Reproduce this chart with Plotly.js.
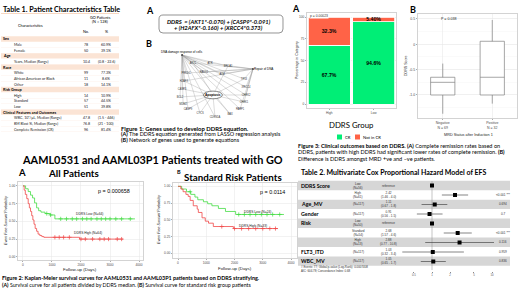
<!DOCTYPE html>
<html><head><meta charset="utf-8">
<script src="https://cdn.plot.ly/plotly-3.0.1.min.js"></script>
<style>html,body{margin:0;padding:0;background:#fff}#chart{width:520px;height:292px}</style>
</head><body><div id="chart"></div>
<script>
// ================= DATA =================
// Table 1
const t1Labels = ["Sex","Male","Female","Age","Years, Median (Range)","Race","White","African American or Black","Other","Risk Group","High","Standard","Low","Clinical Features and Outcomes","WBC, 10\u00b3/\u00b5L, Median (Range)","BM Blast %, Median (Range)","Complete Remission (CR)"];
const t1No  = ["","78","50","","10.4","","99","11","18","","14","57","51","","47.8","76.8","96"];
const t1Pct = ["","60.9%","39.1%","","(0.8 - 22.6)","","77.3%","8.6%","14.1%","","10.9%","44.5%","39.8%","","(1.5 - 446)","(21 - 100)","81.4%"];

// Figure 1
const eqLine1 = "DDRS  = (AKT1*-0.070) + (CASP9*-0.091)";
const eqLine2 = "+ (H2AFX*-0.160) + (XRCC4*0.373)";
const hubNames = ["DNA damage response of cells","Repair of DNA","Apoptosis"];
const hubX = [29.0, 77.9, 50.3];
const hubY = [87.0, 68.8, 35.1];
const geneNames = ["AKT1","ATR","BRCA1","PRKDC","RAD51","ATM","H2AFX","TP53","CASP3","XRCC4","BCL2","CHEK2","MDM2","CHEK1","CASP9","PARP1","CYCS","CDKN1A","BAX"];
const geneX = [36.6,48.3,60.7,31.7,44.1,56.6,30.3,71.7,29.0,73.1,27.6,73.1,29.7,71.7,33.1,69.0,41.4,51.7,62.1];
const geneY = [76.6,76.6,72.7,63.6,64.9,62.3,53.2,55.8,42.9,45.5,32.5,35.1,23.4,26.0,16.9,16.9,11.7,6.5,10.4];
const dnaTargets = [0,1,2,3,4,5,6,7,8,9,10,11,12,13,14,15,16,17,18];
const repairTargets = [0,1,2,3,4,5,6,7,9,11,13,15];
const apoptosisTargets = [0,2,6,7,8,10,11,12,13,14,16,17,18];

// Figure 3A
const crGroups = ["High","Low"];
const crPct = [67.7, 94.6];
const notCrPct = [32.3, 5.4];
const crText = ["67.7%","94.6%"];
const notCrText = ["32.3%","5.40%"];
const crP = "p = 0.00023";

// Figure 3B
const mrdGroups = ["Negative","Positive"];
const mrdN = [69, 32];
const mrdLower = [-1.37, -1.17];
const mrdQ1 = [-1.0, -1.0];
const mrdMed = [-0.75, -0.65];
const mrdQ3 = [-0.65, 0.06];
const mrdUpper = [-0.38, 0.48];
const mrdP = "P = 0.038";

// Figure 2A (all patients)
const kmA_low_t = [0,90,180,260,330,400,470,540,620,760,930,1100,3860];
const kmA_low_s = [1,0.96,0.92,0.87,0.83,0.76,0.69,0.65,0.63,0.61,0.59,0.535,0.535];
const kmA_low_c = [820,950,1300,1500,1700,1850,2050,2200,2350,2550,2700,2850,3000,3200,3400,3700];
const kmA_high_t = [0,40,80,130,180,220,260,300,340,380,420,470,520,580,650,720,1950,3450];
const kmA_high_s = [1,0.94,0.88,0.82,0.75,0.69,0.64,0.58,0.52,0.46,0.40,0.36,0.32,0.30,0.285,0.275,0.25,0.25];
const kmA_high_c = [1100,1250,1400,1600,2000,2150,2400,2650,2800,2950,3250,3400];
const kmA_p = "p = 0.000658";
const kmA_lowLab = "DDRS Low (N=64)", kmA_highLab = "DDRS High (N=64)";

// Figure 2B (standard risk)
const kmB_low_t = [0,130,300,450,600,700,900,1050,1200,1430,1680,2040,3750];
const kmB_low_s = [1,0.96,0.92,0.88,0.84,0.80,0.77,0.74,0.71,0.67,0.625,0.58,0.58];
const kmB_low_c = [430,2150,2350,2550,2750,2950,3150,3350,3600];
const kmB_high_t = [0,100,180,280,360,430,540,680,720,850,965,1080,1250,1960,3540];
const kmB_high_s = [1,0.96,0.92,0.88,0.85,0.79,0.71,0.66,0.61,0.53,0.48,0.45,0.40,0.37,0.37];
const kmB_high_c = [1550,2000,2250,2500,2750,3000,3250,3450];
const kmB_p = "p = 0.0114";
const kmB_lowLab = "DDRS Low (N=24)", kmB_highLab = "DDRS High (N=33)";

// Table 2 (Cox model)
const coxVar = ["DDRS Score","","Age_MV","Gender","Risk","","","FLT3_ITD","WBC_MV"];
const coxSub = ["Low<br>(N=56)","High<br>(N=61)","(N=117)","(N=117)","Low<br>(N=50)","Standard<br>(N=54)","High<br>(N=13)","(N=117)","(N=117)"];
const coxHR = [1, 2.42, 1.11, 0.91, 1, 2.68, 2.88, 1.03, 1.05];
const coxLo = [null, 1.46, 0.67, 0.56, null, 1.57, 0.77, 0.32, 0.65];
const coxHi = [null, "4.0", "1.8", "1.5", null, "4.6", "10.8", "3.4", "1.7"];
const coxP = ["", "&lt;0.001 ***", "0.694", "0.7", "", "&lt;0.001 ***", "0.116", "0.959", "0.836"];
const coxTicks = [0.5, 1, 2, 5, 10];
const coxFoot1 = "# Events: 77; Global p-value (Log-Rank): 0.0007408";
const coxFoot2 = "AIC: 604.78; Concordance Index: 0.68";

// ================= BUILD =================
const W = 520, H = 292;
const FONT = 'Lato, "Noto Sans", sans-serif';
const PF = '"Liberation Sans", Arial, sans-serif';
const GREEN = "#00EE76", TOMATO = "#FF6347";
const KMG = "#44DD44", KMR = "#F04848";

const ann = [];
const shapes = [];
function A(x, y, text, size, o) {
  o = o || {};
  ann.push({xref:'paper', yref:'paper', x:x/W, y:1-y/H, text:text, showarrow:false,
    xanchor:o.xa||'left', yanchor:o.ya||'middle', align:o.align||'left', textangle:o.angle||0,
    borderpad:0, bgcolor:o.bg||'rgba(0,0,0,0)',
    font:{family:o.family||FONT, size:size, color:o.color||'#000'}});
}
function R(x0, y0, x1, y1, fill, line, lw) {
  shapes.push({type:'rect', xref:'paper', yref:'paper', x0:x0/W, x1:x1/W, y0:1-y1/H, y1:1-y0/H,
    fillcolor:fill||'rgba(0,0,0,0)', line:{color:line||'rgba(0,0,0,0)', width:lw||0}, layer:'below'});
}
function dx(a,b){return [a/W, b/W];}
function dy(top,bot){return [1-bot/H, 1-top/H];}

// ---- Table 1 ----
A(2, 9, "<b>Table 1. Patient Characteristics Table</b>", 7.2);
R(1, 13, 119, 13.6, '#f4b183');
A(30, 25, "Characteristics", 3.8, {xa:'center'});
A(100, 17, "GO Patients", 3.8, {xa:'center'});
A(100, 21.5, "(N = 128)", 3.8, {xa:'center'});
A(86, 31.5, "No.", 3.8, {xa:'center'});
A(106, 31.5, "%", 3.8, {xa:'center'});
t1Labels.forEach((lab, i) => {
  const y = 39 + i * 5.625;
  const cat = t1No[i] === "";
  if (cat) {
    R(1, y - 2.7, 119, y + 2.7, '#fbe4d5');
    A(2, y, "<b>" + lab + "</b>", 3.8);
  } else {
    A(13, y, lab, 3.6, {color:'#222'});
    A(86, y, t1No[i], 3.6, {xa:'center', color:'#222'});
    A(106, y, t1Pct[i], 3.6, {xa:'center', color:'#222'});
    R(1, y + 2.7, 119, y + 2.9, '#fbe4d5');
  }
});

// ---- Figure 1 ----
A(145, 10, "<b>A</b>", 9);
A(145, 43, "<b>B</b>", 9);
(function(){
  const x0=159,x1=283,y0=15,y1=33,r=4;
  const X=v=>(v/W).toFixed(5), Y=v=>(1-v/H).toFixed(5);
  const p = `M${X(x0+r)},${Y(y0)} L${X(x1-r)},${Y(y0)} Q${X(x1)},${Y(y0)} ${X(x1)},${Y(y0+r)} L${X(x1)},${Y(y1-r)} Q${X(x1)},${Y(y1)} ${X(x1-r)},${Y(y1)} L${X(x0+r)},${Y(y1)} Q${X(x0)},${Y(y1)} ${X(x0)},${Y(y1-r)} L${X(x0)},${Y(y0+r)} Q${X(x0)},${Y(y0)} ${X(x0+r)},${Y(y0)} Z`;
  shapes.push({type:'path', xref:'paper', yref:'paper', path:p, line:{color:'#666', width:0.7}, fillcolor:'rgba(0,0,0,0)'});
})();
A(166, 21.5, "<b><i>" + eqLine1 + "</i></b>", 5.8);
A(172.5, 28, "<b><i>" + eqLine2 + "</i></b>", 5.8);
A(120, 128, "<b>Figure 1: Genes used to develop DDRS equation.</b>", 5.9);
A(120, 134, "<b>(A)</b> The DDRS equation generated from LASSO regression analysis", 5.5);
A(120, 140, "<b>(B)</b> Network of genes used to generate equations", 5.5);

// network edges
const ex = [], ey = [];
[[0,dnaTargets],[1,repairTargets],[2,apoptosisTargets]].forEach(([h, tg]) => {
  tg.forEach(g => { ex.push(hubX[h], geneX[g], null); ey.push(hubY[h], geneY[g], null); });
});
const traces = [];
traces.push({type:'scatter', mode:'lines', x:ex, y:ey, xaxis:'x6', yaxis:'y6',
  line:{color:'#9a9a9a', width:0.35}, hoverinfo:'skip', showlegend:false});
traces.push({type:'scatter', mode:'text', x:geneX, y:geneY, text:geneNames, xaxis:'x6', yaxis:'y6',
  textfont:{family:PF, size:2.6, color:'#333'}, showlegend:false, cliponaxis:false});
traces.push({type:'scatter', mode:'markers', x:hubX, y:hubY, xaxis:'x6', yaxis:'y6',
  marker:{size:2, color:'#444'}, showlegend:false, cliponaxis:false});
shapes.push({type:'circle', xref:'x6', yref:'y6', x0:hubX[2]-6.5, x1:hubX[2]+6.5, y0:hubY[2]-5, y1:hubY[2]+5,
  line:{color:'#333', width:0.6}, fillcolor:'rgba(255,255,255,0.9)'});
ann.push({xref:'x6', yref:'y6', x:hubX[2], y:hubY[2], text:"<b>"+hubNames[2]+"</b>", showarrow:false,
  font:{family:PF, size:3.2, color:'#000'}, xanchor:'center', yanchor:'middle'});
ann.push({xref:'x6', yref:'y6', x:hubX[0], y:hubY[0], text:hubNames[0], showarrow:false,
  font:{family:PF, size:3, color:'#000'}, xanchor:'center', yanchor:'bottom', borderpad:0});
ann.push({xref:'x6', yref:'y6', x:hubX[1], y:hubY[1], text:hubNames[1], showarrow:false,
  font:{family:PF, size:3, color:'#000'}, xanchor:'left', yanchor:'middle', borderpad:0});

// ---- Figure 3A bars ----
A(291, 8, "<b>A</b>", 9);
traces.push({type:'bar', x:crGroups, y:crPct, name:'CR', xaxis:'x', yaxis:'y',
  marker:{color:GREEN, line:{color:'#fff', width:0.8}}, text:crText, texttemplate:'<b>%{text}</b>',
  textposition:'inside', insidetextanchor:'middle', constraintext:'none',
  textfont:{family:PF, size:5.2, color:'#000'}, showlegend:false});
traces.push({type:'bar', x:crGroups, y:notCrPct, name:'Not in CR', xaxis:'x', yaxis:'y',
  marker:{color:TOMATO, line:{color:'#fff', width:0.8}}, text:notCrText, texttemplate:'<b>%{text}</b>',
  textposition:'inside', insidetextanchor:'middle', constraintext:'none',
  textfont:{family:PF, size:5.2, color:'#000'}, showlegend:false, cliponaxis:false});
A(309, 15.5, crP, 3.4, {family:PF, bg:'#fff', color:'#333'});
A(297, 60, "Percentage in Category", 3.6, {xa:'center', angle:-90, family:PF, color:'#222'});
A(351, 125, "DDRS Group", 7.8, {xa:'center'});
R(337, 134.5, 342, 139.5, GREEN);
A(344, 137, "CR", 4.2);
R(355, 134.5, 360, 139.5, TOMATO);
A(362, 137, "Not in CR", 4.2);
A(297, 145.5, "<b>Figure 3: Clinical outcomes based on DDRS. (A)</b> Complete remission rates based on", 5.55);
A(297, 152, "DDRS, patients with high DDRS had significant lower rates of complete remission. <b>(B)</b>", 5.55);
A(297, 158.5, "Difference is DDRS amongst MRD +ve and \u2013ve patients.", 5.55);

// ---- Figure 3B box ----
A(409, 9, "<b>B</b>", 9);
traces.push({type:'box', x:mrdGroups, q1:mrdQ1, median:mrdMed, q3:mrdQ3, lowerfence:mrdLower, upperfence:mrdUpper,
  xaxis:'x2', yaxis:'y2', fillcolor:'#fff', line:{color:'#7f7f7f', width:0.7}, whiskerwidth:0,
  boxpoints:false, showlegend:false});
A(440, 19, mrdP, 3.6, {family:PF, color:'#222'});
A(406, 66, "DDRS Score", 3.6, {xa:'center', angle:-90, family:PF, color:'#222'});
A(468, 135, "MRD Status after Induction 1", 3.8, {xa:'center', family:PF, color:'#222'});

// ---- Figure 2 ----
A(152, 159.5, "<b>AAML0531 and AAML03P1 Patients treated with GO</b>", 10.9, {xa:'center'});
A(22, 172.5, "<b>A</b>", 9.5, {xa:'center'});
A(73, 172.5, "<b>All Patients</b>", 9.8, {xa:'center'});
A(179, 171.5, "<b>B</b>", 5.5, {xa:'center'});
A(233, 177, "<b>Standard Risk Patients</b>", 9.8, {xa:'center'});

function stepAt(t, ts, ss){ let v = ss[0]; for (let i=0;i<ts.length;i++) if (ts[i] <= t) v = ss[i]; return v; }
function km(ts, ss, cs, color, xa, ya){
  traces.push({type:'scatter', mode:'lines', x:ts, y:ss, line:{shape:'hv', color:color, width:0.8},
    xaxis:xa, yaxis:ya, showlegend:false});
  traces.push({type:'scatter', mode:'markers', x:cs, y:cs.map(t=>stepAt(t, ts, ss)),
    marker:{symbol:'cross-thin', size:3, line:{color:color, width:0.7}, color:color},
    xaxis:xa, yaxis:ya, showlegend:false});
}
km(kmA_low_t, kmA_low_s, kmA_low_c, KMG, 'x3', 'y3');
km(kmA_high_t, kmA_high_s, kmA_high_c, KMR, 'x3', 'y3');
km(kmB_low_t, kmB_low_s, kmB_low_c, KMG, 'x4', 'y4');
km(kmB_high_t, kmB_high_s, kmB_high_c, KMR, 'x4', 'y4');
A(114, 191, kmA_p, 5.4, {xa:'center', family:PF});
A(89, 213.5, kmA_lowLab, 3.3, {xa:'center', family:PF, color:'#222'});
A(88, 232.5, kmA_highLab, 3.3, {xa:'center', family:PF, color:'#222'});
A(272, 192, kmB_p, 5.4, {xa:'center', family:PF});
A(257, 212, kmB_lowLab, 3.3, {xa:'center', family:PF, color:'#222'});
A(253, 226, kmB_highLab, 3.3, {xa:'center', family:PF, color:'#222'});
A(6, 221, "<i>Event Free Survival Probability</i>", 3.6, {xa:'center', angle:-90, family:PF, color:'#222'});
A(159, 220, "<i>Event Free Survival Probability</i>", 3.6, {xa:'center', angle:-90, family:PF, color:'#222'});
A(80, 269, "Follow-up (Days)", 4.4, {xa:'center', family:PF, color:'#222'});
A(235, 268.5, "Follow-up (Days)", 4.4, {xa:'center', family:PF, color:'#222'});
A(1, 277.5, "<b>Figure 2: Kaplan-Meier survival curves for AAML0531 and AAML03P1 patients based on DDRS stratifying.</b>", 5.45);
A(1, 284.5, "<b>(A)</b> Survival curve for all patients divided by DDRS median. <b>(B)</b> Survival curve for standard risk group patients", 5.25);

// ---- Table 2 ----
A(300, 171.5, "<b>Table 2. Multivariate Cox Proportional Hazard Model of EFS</b>", 7);
coxVar.forEach((v, i) => {
  const y = 185.5 + i * 9.45;
  if (i % 2 === 0) R(298, y - 4.72, 510, y + 4.72, '#d6d6d6');
  if (v) A(300, y + (i===0?0.5:0), "<b>" + v + "</b>", 5.3);
  A(358, y, coxSub[i], 3.1, {xa:'center', align:'center', family:PF, color:'#333'});
  const hrTxt = coxLo[i] === null ? "reference" : coxHR[i].toFixed(2) + "<br>(" + coxLo[i].toFixed(2) + " - " + coxHi[i] + ")";
  A(388, y, hrTxt, 3.1, {xa:'center', align:'center', family:PF, color:'#333'});
  if (coxP[i]) A(503, y, coxP[i], 3.1, {xa:'center', family:PF, color:'#333'});
});
A(300, 267, coxFoot1, 2.9, {family:PF, color:'#333'});
A(300, 271, coxFoot2, 2.9, {family:PF, color:'#333'});
const rowIdx = coxHR.map((_, i) => i);
traces.push({type:'scatter', mode:'markers', x:coxHR, y:rowIdx, xaxis:'x5', yaxis:'y5',
  marker:{symbol:'square', size:4, color:'#000'},
  error_x:{type:'data', symmetric:false,
    array:coxHR.map((h,i)=>coxLo[i]===null?0:(+coxHi[i])-h),
    arrayminus:coxHR.map((h,i)=>coxLo[i]===null?0:h-coxLo[i]),
    color:'#333', thickness:0.6, width:0},
  showlegend:false, cliponaxis:false});
shapes.push({type:'line', xref:'x5', yref:'paper', x0:1, x1:1, y0:1-270/H, y1:1-181/H,
  line:{color:'#888', width:0.5}, layer:'below'});

// ================= LAYOUT =================
const gridAx = {showline:true, mirror:true, linecolor:'#b5b5b5', linewidth:0.6, showgrid:true,
  gridcolor:'#e6e6e6', gridwidth:0.5, zeroline:false, ticks:'outside', ticklen:1.5, tickwidth:0.5,
  tickcolor:'#555', tickfont:{family:PF, size:3.2, color:'#4d4d4d'}, fixedrange:true};
const layout = {
  width:W, height:H, margin:{l:0,r:0,t:0,b:0}, paper_bgcolor:'#fff', plot_bgcolor:'#fff',
  showlegend:false, barmode:'stack', bargap:0.06, boxgap:0.3, hovermode:false,
  xaxis: Object.assign({}, gridAx, {domain:dx(307,396), anchor:'y', type:'category', showgrid:false}),
  yaxis: Object.assign({}, gridAx, {domain:dy(13,108), anchor:'x', range:[-4.6,104.6],
    tickvals:[0,25,50,75,100], ticksuffix:'%'}),
  xaxis2: Object.assign({}, gridAx, {domain:dx(418,517), anchor:'y2', type:'category',
    tickvals:mrdGroups, ticktext:mrdGroups.map((g,i)=>g+"<br>N = "+mrdN[i]), tickfont:{family:PF,size:3.5,color:'#4d4d4d'}}),
  yaxis2: Object.assign({}, gridAx, {domain:dy(14,118), anchor:'x2', range:[-1.454,0.598],
    tickvals:[-1,-0.5,0,0.5], ticktext:["-1.0","-0.5","0","0.5"], tickfont:{family:PF,size:3.5,color:'#4d4d4d'},
    minor:{showgrid:true, gridcolor:'#f2f2f2', gridwidth:0.4, dtick:0.25}}),
  xaxis3: Object.assign({}, gridAx, {domain:dx(18,143), anchor:'y3', range:[-172,4138], tickvals:[0,1000,2000,3000,4000]}),
  yaxis3: Object.assign({}, gridAx, {domain:dy(182,260), anchor:'x3', range:[-0.045,1.055], tickvals:[0,0.25,0.5,0.75,1], tickformat:'.2f'}),
  xaxis4: Object.assign({}, gridAx, {domain:dx(173,297), anchor:'y4', range:[-177,4212], tickvals:[0,1000,2000,3000,4000]}),
  yaxis4: Object.assign({}, gridAx, {domain:dy(183,258), anchor:'x4', range:[-0.07,1.05], tickvals:[0,0.25,0.5,0.75,1], tickformat:'.2f'}),
  xaxis5: {domain:dx(396,496), anchor:'y5', type:'log', range:[-0.6,1.0667], tickvals:coxTicks,
    ticktext:coxTicks.map(String), showgrid:false, zeroline:false, showline:false, ticks:'outside', ticklen:1,
    tickcolor:'#888', tickfont:{family:PF, size:2.8, color:'#555'}, fixedrange:true},
  yaxis5: {domain:dy(180.75,271), anchor:'x5', range:[9.0,-0.5], visible:false, fixedrange:true},
  xaxis6: {domain:dx(140,285), anchor:'y6', range:[0,100], visible:false, fixedrange:true},
  yaxis6: {domain:dy(45,122), anchor:'x6', range:[0,100], visible:false, fixedrange:true},
  annotations: ann, shapes: shapes
};
Plotly.newPlot('chart', traces, layout, {staticPlot:true, displayModeBar:false});
</script></body></html>
